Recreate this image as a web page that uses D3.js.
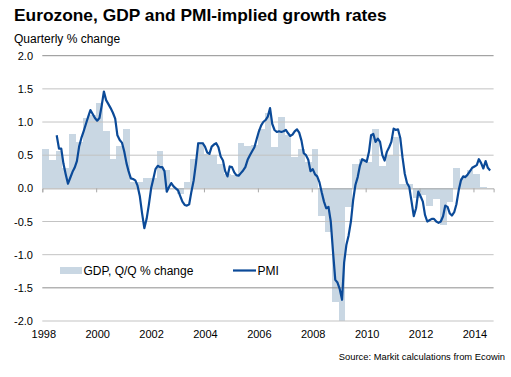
<!DOCTYPE html>
<html>
<head>
<meta charset="utf-8">
<script src="https://cdnjs.cloudflare.com/ajax/libs/d3/7.8.5/d3.min.js"></script>
<style>
  body { margin: 0; background: #fff; }
  svg { display: block; font-family: Arial, "Liberation Sans", sans-serif; }
</style>
</head>
<body>
<div id="chart"></div>
<script>
// GDP, quarter on quarter % change, from 1998 Q1
const gdpStartYear = 1998;
const gdpValues = [
  0.60, 0.43, 0.57, 0.30,
  0.82, 0.70, 1.06, 1.10,
  1.28, 0.86, 0.44, 0.64,
  0.89, 0.10, 0.10, 0.15,
  0.15, 0.57, 0.27, 0.00,
  -0.08, 0.09, 0.44, 0.70,
  0.52, 0.50, 0.36, 0.22,
  0.20, 0.69, 0.64, 0.65,
  0.89, 1.13, 0.62, 1.08,
  0.80, 0.47, 0.59, 0.39,
  0.59, -0.42, -0.66, -1.72,
  -2.00, -0.28, 0.36, 0.45,
  0.40, 0.90, 0.34, 0.50,
  0.78, 0.07, 0.06, -0.15,
  -0.10, -0.27, -0.16, -0.55,
  -0.20, 0.30, 0.15, 0.28,
  0.21, 0.02
];

// PMI-implied growth, monthly, from July 1998
const pmiStartYear = 1998, pmiStartMonth = 6;
const pmiValues = [
  0.80, 0.60, 0.60, 0.37, 0.21, 0.07,
  0.16, 0.25, 0.31, 0.41, 0.63, 0.76, 0.86, 0.97, 1.08, 1.18, 1.12, 1.06,
  1.02, 1.06, 1.24, 1.46, 1.33, 1.27, 1.21, 1.14, 1.05, 0.80, 0.73, 0.69,
  0.56, 0.38, 0.26, 0.15, 0.14, 0.12, 0.04, -0.12, -0.38, -0.60, -0.46, -0.25,
  0.00, 0.15, 0.29, 0.34, 0.32, 0.32, 0.26, -0.05, 0.02, 0.08, 0.03, 0.00,
  -0.03, -0.12, -0.20, -0.25, -0.26, -0.24, -0.05, 0.12, 0.38, 0.68, 0.68, 0.68,
  0.63, 0.54, 0.52, 0.63, 0.66, 0.68, 0.62, 0.48, 0.42, 0.26, 0.18, 0.33,
  0.32, 0.24, 0.20, 0.19, 0.23, 0.27, 0.32, 0.43, 0.50, 0.56, 0.62, 0.74,
  0.86, 0.95, 1.00, 1.03, 1.08, 1.21, 0.97, 0.88, 0.85, 0.86, 0.85, 0.86,
  0.88, 0.83, 0.79, 0.81, 0.86, 0.89, 0.84, 0.72, 0.53, 0.50, 0.43, 0.26,
  0.29, 0.21, 0.18, 0.09, -0.06, -0.20, -0.30, -0.28, -0.50, -0.95, -1.38, -1.42,
  -1.52, -1.68, -1.12, -0.85, -0.71, -0.50, -0.18, 0.05, 0.17, 0.34, 0.44, 0.42,
  0.40, 0.55, 0.80, 0.82, 0.70, 0.75, 0.70, 0.50, 0.42, 0.55, 0.62, 0.70,
  0.90, 0.88, 0.89, 0.76, 0.47, 0.22, 0.08, 0.02, -0.20, -0.42, -0.30, -0.05,
  -0.12, -0.20, -0.40, -0.50, -0.48, -0.46, -0.46, -0.50, -0.52, -0.50, -0.42, -0.26,
  -0.28, -0.38, -0.41, -0.36, -0.24, -0.03, 0.12, 0.18, 0.17, 0.21, 0.26, 0.31,
  0.33, 0.35, 0.44, 0.38, 0.30, 0.41, 0.31, 0.27
];

const yTicks = [-2.0, -1.5, -1.0, -0.5, 0.0, 0.5, 1.0, 1.5, 2.0];
const xTickYears = [1998, 2000, 2002, 2004, 2006, 2008, 2010, 2012, 2014];
const legendLabels = ['GDP, Q/Q % change', 'PMI'];

const W = 511, H = 377;
const colors = { bar: '#c9d7e3', line: '#0b4a98', grid: '#c3c3c3', gridDark: '#8e8e8e', axis: '#a8a8a8', text: '#000' };

const svg = d3.select('#chart').append('svg')
  .attr('width', W).attr('height', H);

// scales
const x = d3.scaleTime()
  .domain([new Date(1998, 0, 1), new Date(2014, 9, 1)])
  .range([42.3, 493.6]);
const y = d3.scaleLinear().domain([-2, 2]).range([321, 55.7]);

// titles
svg.append('text').attr('x', 14).attr('y', 21)
  .attr('font-size', 17.35).attr('font-weight', 'bold').attr('fill', colors.text)
  .text('Eurozone, GDP and PMI-implied growth rates');
svg.append('text').attr('x', 14).attr('y', 43)
  .attr('font-size', 12).attr('fill', colors.text)
  .text('Quarterly % change');

// bars
const gdpData = gdpValues.map((v, i) => ({
  start: new Date(gdpStartYear, i * 3, 1),
  end: new Date(gdpStartYear, i * 3 + 3, 1),
  value: v
}));
svg.append('g').selectAll('rect')
  .data(gdpData)
  .join('rect')
    .attr('x', d => x(d.start))
    .attr('width', d => x(d.end) - x(d.start))
    .attr('y', d => Math.min(y(0), y(d.value)))
    .attr('height', d => Math.abs(y(d.value) - y(0)))
    .attr('fill', colors.bar)
    .attr('shape-rendering', 'crispEdges');

// gridlines
svg.append('g').selectAll('line')
  .data(yTicks.filter(t => t !== 0))
  .join('line')
    .attr('x1', x.range()[0]).attr('x2', x.range()[1])
    .attr('y1', d => y(d)).attr('y2', d => y(d))
    .attr('stroke', d => (d === 2 || d === -1.5) ? colors.gridDark : colors.grid)
    .attr('stroke-width', 1);

// zero axis with year ticks
const xAxis = d3.axisBottom(x)
  .tickValues(xTickYears.map(yr => new Date(yr, 0, 1)))
  .tickSize(4)
  .tickFormat(() => '');
const xg = svg.append('g').attr('transform', `translate(0,${y(0)})`).call(xAxis);
xg.select('.domain').attr('stroke', colors.axis);
xg.selectAll('.tick line').attr('stroke', colors.axis);

// year labels along the bottom
svg.append('g').selectAll('text')
  .data(xTickYears)
  .join('text')
    .attr('x', d => x(new Date(d, 0, 1)) + 1.5)
    .attr('y', 338)
    .attr('text-anchor', 'middle')
    .attr('font-size', 11)
    .attr('fill', colors.text)
    .text(d => d);

// y labels
const yAxis = d3.axisLeft(y).tickValues(yTicks).tickSize(0).tickPadding(0)
  .tickFormat(d3.format('.1f'));
const yg = svg.append('g').attr('transform', 'translate(33,0)').call(yAxis);
yg.select('.domain').remove();
yg.selectAll('text').attr('font-size', 11).attr('fill', colors.text)
  .attr('font-family', 'Arial, "Liberation Sans", sans-serif')
  .text(d => d3.format('.1f')(d).replace('\u2212', '-'));

// PMI line
const pmiData = pmiValues.map((v, i) => ({
  date: new Date(pmiStartYear, pmiStartMonth + i, 15),
  value: v
}));
svg.append('path')
  .datum(pmiData)
  .attr('fill', 'none')
  .attr('stroke', colors.line)
  .attr('stroke-width', 2.2)
  .attr('stroke-linejoin', 'round')
  .attr('d', d3.line().x(d => x(d.date)).y(d => y(d.value)));

// legend
const lg = svg.append('g');
lg.append('rect').attr('x', 60).attr('y', 267).attr('width', 22).attr('height', 7)
  .attr('fill', colors.bar);
lg.append('text').attr('x', 83.5).attr('y', 275).attr('font-size', 12).attr('fill', colors.text)
  .text(legendLabels[0]);
lg.append('line').attr('x1', 233).attr('x2', 256).attr('y1', 270.5).attr('y2', 270.5)
  .attr('stroke', colors.line).attr('stroke-width', 2.2);
lg.append('text').attr('x', 257.5).attr('y', 275).attr('font-size', 12).attr('fill', colors.text)
  .text(legendLabels[1]);

// source
svg.append('text').attr('x', 505).attr('y', 360).attr('text-anchor', 'end')
  .attr('font-size', 9.4).attr('fill', colors.text)
  .text('Source: Markit calculations from Ecowin');
</script>
</body>
</html>
